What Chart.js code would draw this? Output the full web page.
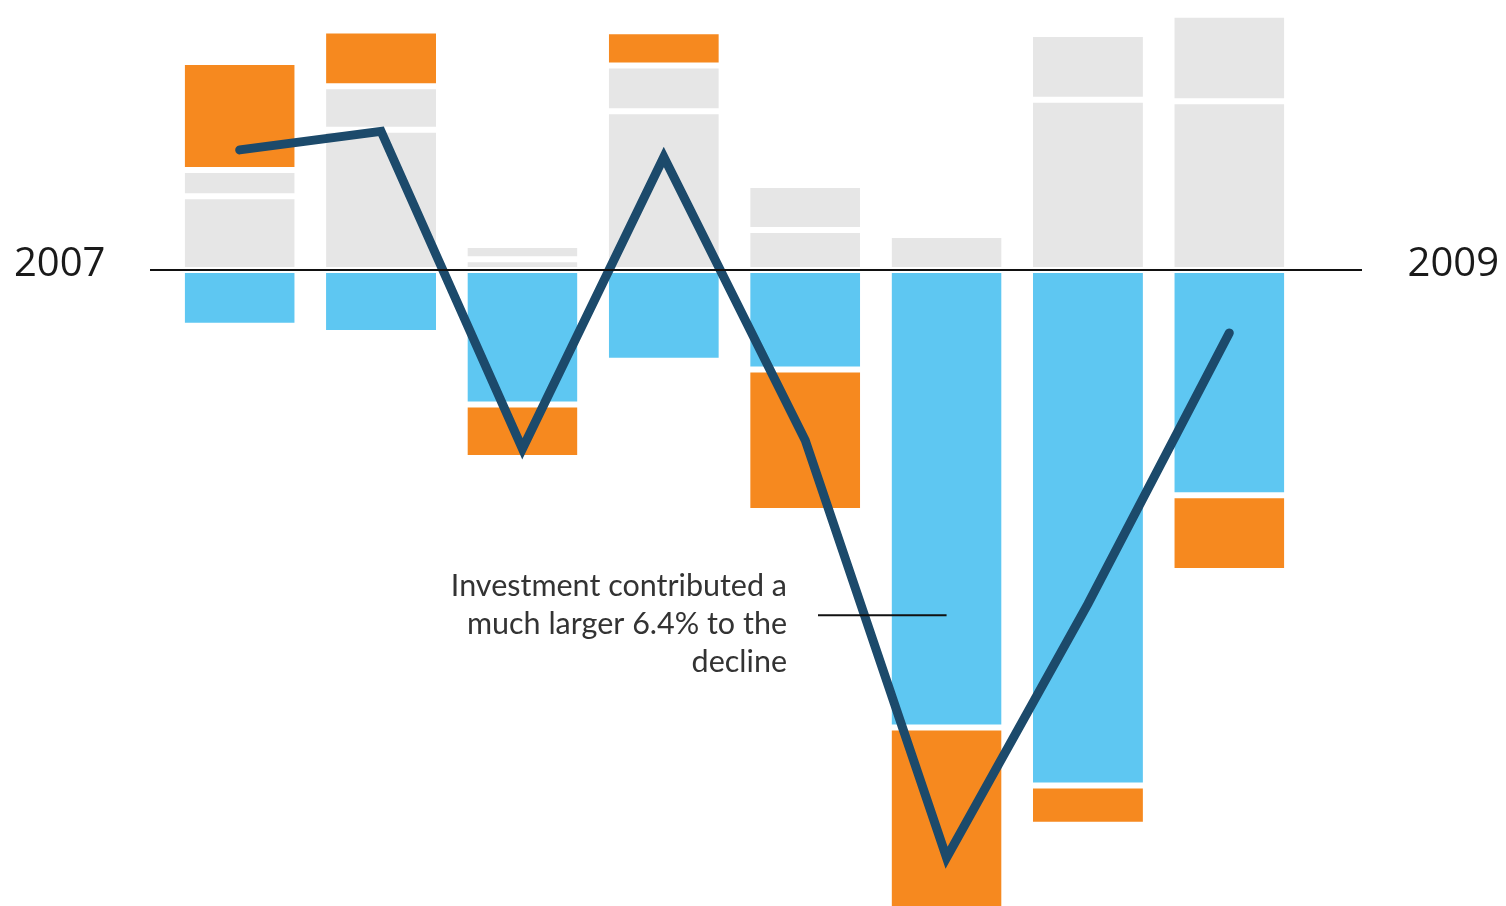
<!DOCTYPE html>
<html>
<head>
<meta charset="utf-8">
<script src="https://cdn.jsdelivr.net/npm/chart.js@4"></script>
<style>
  html, body { margin: 0; padding: 0; background: #fff; }
  #wrap { position: relative; width: 1506px; height: 906px; }
</style>
</head>
<body>
<div id="wrap"><canvas id="c" width="1506" height="906"></canvas></div>
<script>
// ---- data (percentage points) ----
const categories = ["Q1", "Q2", "Q3", "Q4", "Q5", "Q6", "Q7", "Q8"];
const grayLower  = [1.03, 1.96, 0.15, 2.22, 0.56, 0.49, 2.38, 2.36];
const grayUpper  = [0.37, 0.61, 0.20, 0.64, 0.63, 0.00, 0.92, 1.21];
const investment = [-0.78, -0.88, -1.88, -1.27, -1.39, -6.40, -7.21, -3.15];
const orangePart = [1.51, 0.78, -0.75, 0.48, -1.98, -2.80, -0.55, -1.06];
const gdpLine    = [1.68, 1.94, -2.50, 1.58, -2.38, -8.22, -4.67, -0.88];
const startLabel = "2007";
const endLabel   = "2009";
const noteLines  = ["Investment contributed a", "much larger 6.4% to the", "decline"];
const noteAnchor = { index: 5, value: -4.83 };

// ---- style ----
const PX = 71.5;          // pixels per unit
const ZERO_Y = 270;       // zero line pixel
const H = 906;
const GRAY = "#e6e6e6", BLUE = "#5ec7f2", ORANGE = "#f6891f", LINE = "#1c4a6b";

const barStyle = {
  type: "bar",
  stack: "s",
  borderColor: "#ffffff",
  borderWidth: { top: 3, bottom: 3, left: 0, right: 0 },
  borderSkipped: false,
  barPercentage: 0.778,
  categoryPercentage: 1.0,
  order: 2
};

const decor = {
  id: "decor",
  afterDatasetsDraw(chart) {
    const ctx = chart.ctx;
    const y = chart.scales.y, x = chart.scales.x;
    const y0 = y.getPixelForValue(0);
    ctx.save();
    // zero line
    ctx.strokeStyle = "#111";
    ctx.lineWidth = 2;
    ctx.beginPath();
    ctx.moveTo(150, y0);
    ctx.lineTo(1362, y0);
    ctx.stroke();
    // side labels
    ctx.fillStyle = "#1a1a1a";
    ctx.font = "40px 'Open Sans'";
    ctx.textBaseline = "middle";
    ctx.textAlign = "left";
    ctx.fillText(startLabel, 14, y0 - 5);
    ctx.textAlign = "right";
    ctx.fillText(endLabel, 1499, y0 - 5);
    // annotation
    const ax = x.getPixelForValue(noteAnchor.index);
    const ay = y.getPixelForValue(noteAnchor.value);
    ctx.strokeStyle = "#111";
    ctx.lineWidth = 2;
    ctx.beginPath();
    ctx.moveTo(818, ay);
    ctx.lineTo(ax, ay);
    ctx.stroke();
    ctx.fillStyle = "#333";
    ctx.font = "30.5px Lato";
    ctx.textAlign = "right";
    ctx.textBaseline = "alphabetic";
    noteLines.forEach((t, i) => ctx.fillText(t, 787, ay - 19 + i * 38));
    ctx.restore();
  }
};

new Chart(document.getElementById("c"), {
  data: {
    labels: categories,
    datasets: [
      Object.assign({}, barStyle, { label: "Other (lower)", data: grayLower, backgroundColor: GRAY }),
      Object.assign({}, barStyle, { label: "Other (upper)", data: grayUpper, backgroundColor: GRAY }),
      Object.assign({}, barStyle, { label: "Investment", data: investment, backgroundColor: BLUE }),
      Object.assign({}, barStyle, { label: "Other", data: orangePart, backgroundColor: ORANGE }),
      {
        type: "line",
        label: "GDP",
        stack: "line",
        data: gdpLine,
        borderColor: LINE,
        borderWidth: 9,
        borderCapStyle: "round",
        borderJoinStyle: "miter",
        pointRadius: 0,
        tension: 0,
        fill: false,
        order: 1
      }
    ]
  },
  options: {
    responsive: false,
    animation: false,
    layout: { padding: { left: 169, right: 206, top: 0, bottom: 0 } },
    plugins: { legend: { display: false }, tooltip: { enabled: false } },
    scales: {
      x: { display: false, stacked: true, offset: true },
      y: {
        display: false,
        stacked: true,
        min: -(H - ZERO_Y) / PX,
        max: ZERO_Y / PX
      }
    }
  },
  plugins: [decor]
});
</script>
</body>
</html>
